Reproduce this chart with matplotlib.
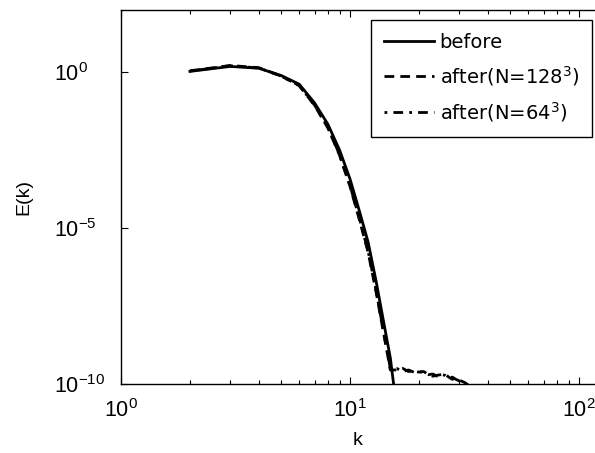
import numpy as np
import matplotlib
matplotlib.use('Agg')
import matplotlib.pyplot as plt
from matplotlib.ticker import FixedLocator, FuncFormatter, NullLocator

plt.rcParams['font.family'] = ['Liberation Sans', 'DejaVu Sans']
plt.rcParams['mathtext.fontset'] = 'custom'
plt.rcParams['mathtext.rm'] = 'Liberation Sans'
plt.rcParams['mathtext.it'] = 'Liberation Sans'
plt.rcParams['mathtext.default'] = 'regular'

# wavenumbers
k_before = [2, 3, 4, 5, 6, 7, 8, 9, 10, 11, 12, 13, 14, 15, 16]
k_after128 = list(range(2, 34))
k_after64 = list(range(2, 33))

# log10 of E(k)
logE_before = [0.03, 0.19, 0.13, -0.10, -0.38, -0.98, -1.66, -2.49, -3.42,
               -4.46, -5.45, -6.70, -7.98, -9.16, -10.8]
logE_after128 = [0.05, 0.22, 0.15, -0.12, -0.43, -1.06, -1.78, -2.66, -3.66,
                 -4.74, -5.78, -7.05, -8.35, -9.55,
                 -9.55, -9.50, -9.60, -9.58, -9.62, -9.60, -9.70, -9.75, -9.72,
                 -9.70, -9.68, -9.78, -9.85, -9.80, -9.88, -9.92, -9.97, -10.05]
logE_after64 = [0.04, 0.21, 0.14, -0.12, -0.42, -1.05, -1.76, -2.64, -3.63,
                -4.70, -5.74, -7.00, -8.30, -9.50,
                -9.50, -9.60, -9.55, -9.62, -9.58, -9.65, -9.70, -9.68, -9.75,
                -9.70, -9.72, -9.80, -9.78, -9.85, -9.90, -9.96, -10.05]

E_before = 10.0 ** np.array(logE_before)
E_after128 = 10.0 ** np.array(logE_after128)
E_after64 = 10.0 ** np.array(logE_after64)

fig = plt.figure(figsize=(5.95, 4.53), dpi=100)
ax = fig.add_axes([121 / 595, 1 - 384 / 453, 1 - 121 / 595, 374 / 453])

lw = 2.0
ax.plot(k_before, E_before, color='black', lw=lw, label='before')
ax.plot(k_after128, E_after128, color='black', lw=lw, dashes=(3.5, 2.2),
        label='after(N=128$^3$)')
ax.plot(k_after64, E_after64, color='black', lw=lw, dashes=(1, 2.2, 3.5, 2.2),
        label='after(N=64$^3$)')

ax.set_xscale('log')
ax.set_yscale('log')
ax.set_xlim(1, 10 ** (2 + 16 / 229))
ax.set_ylim(1e-10, 10 ** 2.0)

ax.yaxis.set_major_locator(FixedLocator([1e-10, 1e-5, 1e0]))
ax.yaxis.set_minor_locator(NullLocator())
fmt = FuncFormatter(lambda v, p: r'$10^{%d}$' % int(round(np.log10(v))))
ax.xaxis.set_major_formatter(fmt)
ax.yaxis.set_major_formatter(fmt)

ax.tick_params(which='both', direction='in', top=True, right=False,
               width=0.8, color='black')
ax.tick_params(axis='x', which='major', labelsize=15.5, length=5, pad=11)
ax.tick_params(axis='y', which='major', labelsize=15.5, length=5, pad=48)
ax.tick_params(which='minor', length=3)
for lab in ax.get_yticklabels():
    lab.set_horizontalalignment('left')
ax.spines['right'].set_visible(False)
for s in ['left', 'bottom', 'top']:
    ax.spines[s].set_linewidth(1.0)

ax.set_xlabel('k', fontsize=14, labelpad=7)
ax.set_ylabel('E(k)', fontsize=14, labelpad=16)

leg = ax.legend(loc='upper right', bbox_to_anchor=(592 / 595, 1 - 20 / 453),
                bbox_transform=fig.transFigure, borderaxespad=0,
                fancybox=False, edgecolor='black', framealpha=1,
                prop={'family': 'DejaVu Sans', 'size': 14},
                handlelength=2.6, handletextpad=0.26,
                labelspacing=0.62, borderpad=0.66)
leg.get_frame().set_linewidth(1.0)

fig.savefig('out.png', dpi=100)
